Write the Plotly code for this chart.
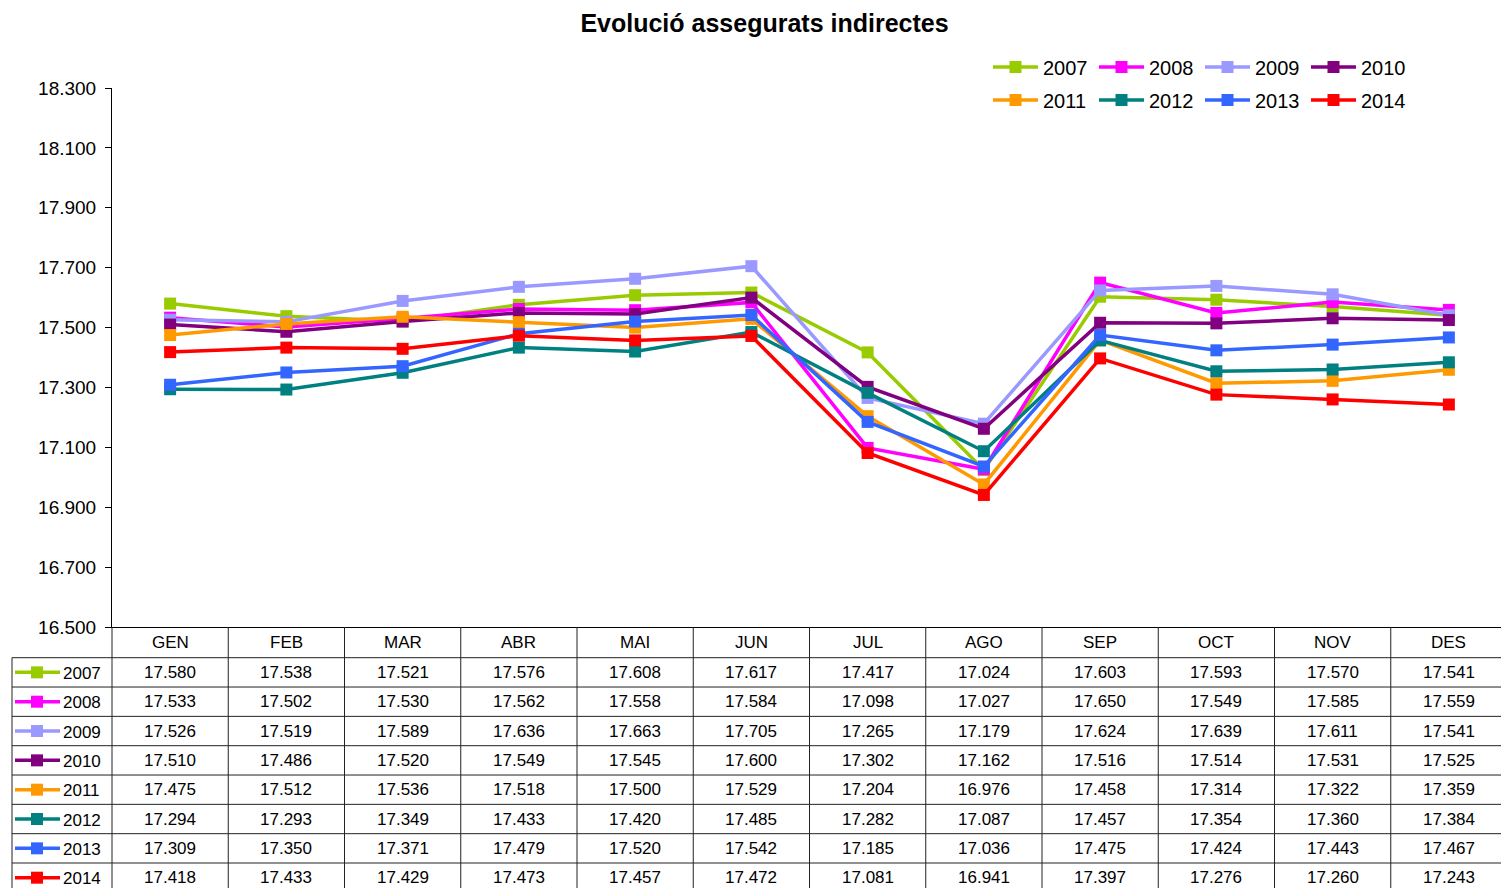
import plotly.graph_objects as go

# ---------------- data ----------------
months = ["GEN", "FEB", "MAR", "ABR", "MAI", "JUN", "JUL", "AGO", "SEP", "OCT", "NOV", "DES"]
years = ["2007", "2008", "2009", "2010", "2011", "2012", "2013", "2014"]

v2007 = [17580, 17538, 17521, 17576, 17608, 17617, 17417, 17024, 17603, 17593, 17570, 17541]
v2008 = [17533, 17502, 17530, 17562, 17558, 17584, 17098, 17027, 17650, 17549, 17585, 17559]
v2009 = [17526, 17519, 17589, 17636, 17663, 17705, 17265, 17179, 17624, 17639, 17611, 17541]
v2010 = [17510, 17486, 17520, 17549, 17545, 17600, 17302, 17162, 17516, 17514, 17531, 17525]
v2011 = [17475, 17512, 17536, 17518, 17500, 17529, 17204, 16976, 17458, 17314, 17322, 17359]
v2012 = [17294, 17293, 17349, 17433, 17420, 17485, 17282, 17087, 17457, 17354, 17360, 17384]
v2013 = [17309, 17350, 17371, 17479, 17520, 17542, 17185, 17036, 17475, 17424, 17443, 17467]
v2014 = [17418, 17433, 17429, 17473, 17457, 17472, 17081, 16941, 17397, 17276, 17260, 17243]
series = [v2007, v2008, v2009, v2010, v2011, v2012, v2013, v2014]

y_ticks = [16500, 16700, 16900, 17100, 17300, 17500, 17700, 17900, 18100, 18300]

colors = ["#99CC00", "#FF00FF", "#9999FF", "#800080", "#FF9900", "#008080", "#3366FF", "#FF0000"]

title_text = "Evolució assegurats indirectes"

# ---------------- layout geometry (pixels) ----------------
W, H = 1501, 888


def px(x):
    return x / W


def py(y):
    return (H - y) / H


AX_L, AX_T, AX_B = 112, 88, 627
COLW = 116.25                      # category column width (table runs past the right edge)
HDR_B = 657.7
ROW_H = 29.33
TBL_L = 12
FONT = "Arial, 'Liberation Sans', sans-serif"
GRID = "#222222"

ncol = len(months)
x_end = -0.5 + (W - AX_L) / COLW

fig = go.Figure()

for i, (yr, vals, col) in enumerate(zip(years, series, colors)):
    fig.add_trace(go.Scatter(
        x=months, y=vals, name=yr, mode="lines+markers",
        line=dict(color=col, width=3.5),
        marker=dict(symbol="square", size=12, color=col),
        legend="legend" if i < 4 else "legend2",
        hoverinfo="x+y+name",
    ))

shapes = []
annotations = []

# table grid: vertical lines of columns
for k in range(ncol):
    xk = AX_L + k * COLW
    shapes.append(dict(type="line", xref="paper", yref="paper",
                       x0=px(xk), x1=px(xk), y0=py(AX_B), y1=py(H + 5),
                       line=dict(color=GRID, width=1)))
# left border of table
shapes.append(dict(type="line", xref="paper", yref="paper",
                   x0=px(TBL_L), x1=px(TBL_L), y0=py(HDR_B), y1=py(H + 5),
                   line=dict(color=GRID, width=1)))
# horizontal row lines
for r in range(len(years)):
    yy = HDR_B + r * ROW_H
    shapes.append(dict(type="line", xref="paper", yref="paper",
                       x0=px(TBL_L), x1=1.0, y0=py(yy), y1=py(yy),
                       line=dict(color=GRID, width=1)))

# header month names
for m in months:
    annotations.append(dict(x=m, xref="x", y=py((AX_B + HDR_B) / 2), yref="paper",
                            text=m, showarrow=False, xanchor="center", yanchor="middle",
                            font=dict(family=FONT, size=17, color="black")))

# rows
for r, (yr, vals, col) in enumerate(zip(years, series, colors)):
    yc = HDR_B + (r + 0.5) * ROW_H
    # legend key in first column
    shapes.append(dict(type="line", xref="paper", yref="paper",
                       x0=px(15), x1=px(60), y0=py(yc), y1=py(yc),
                       line=dict(color=col, width=3.5)))
    shapes.append(dict(type="rect", xref="paper", yref="paper",
                       x0=px(37 - 6), x1=px(37 + 6), y0=py(yc - 6), y1=py(yc + 6),
                       line=dict(width=0), fillcolor=col))
    annotations.append(dict(x=px(61), xref="paper", y=py(yc + 1), yref="paper",
                            text=yr, showarrow=False, xanchor="left", yanchor="middle",
                            font=dict(family=FONT, size=17, color="black")))
    for m, v in zip(months, vals):
        annotations.append(dict(x=m, xref="x", y=py(yc), yref="paper",
                                text=f"{v:,}".replace(",", "."), showarrow=False,
                                xanchor="center", yanchor="middle",
                                font=dict(family=FONT, size=17, color="black")))

legend_common = dict(orientation="h", xref="paper", yref="paper",
                     xanchor="left", yanchor="middle", itemwidth=45,
                     entrywidth=46, entrywidthmode="pixels",
                     font=dict(family=FONT, size=20, color="black"),
                     bgcolor="rgba(0,0,0,0)", borderwidth=0, traceorder="normal")

fig.update_layout(
    template="none",
    width=W, height=H,
    margin=dict(l=0, r=0, t=0, b=0, pad=0),
    paper_bgcolor="white", plot_bgcolor="white",
    separators=",.",
    font=dict(family=FONT, color="black"),
    showlegend=True,
    title=dict(text=f"<b>{title_text}</b>", x=px(764.5), xref="paper", xanchor="center",
               y=py(23), yref="paper", yanchor="middle",
               font=dict(family=FONT, size=25, color="black")),
    xaxis=dict(type="category", range=[-0.5, x_end], domain=[px(AX_L), 1.0],
               showticklabels=False, ticks="", showgrid=False, zeroline=False,
               showline=True, linecolor="black", linewidth=1, automargin=False),
    yaxis=dict(range=[16500, 18300], domain=[py(AX_B), py(AX_T)],
               tickvals=y_ticks, tickformat=",d", ticks="outside", ticklen=6,
               tickcolor="black", showgrid=False, zeroline=False,
               showline=True, linecolor="black", linewidth=1, automargin=False,
               ticklabelstandoff=5,
               tickfont=dict(family=FONT, size=19, color="black")),
    legend=dict(x=px(988), y=py(67), **legend_common),
    legend2=dict(x=px(988), y=py(100), **legend_common),
    shapes=shapes,
    annotations=annotations,
)

fig.write_html("out.html", config={"displayModeBar": False},
               post_script="document.body.style.margin='0';")
